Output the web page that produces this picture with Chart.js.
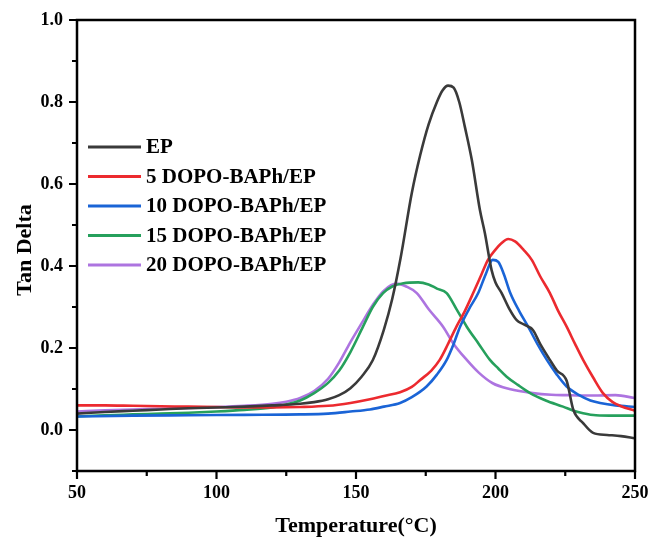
<!DOCTYPE html>
<html>
<head>
<meta charset="utf-8">
<script src="https://cdn.jsdelivr.net/npm/chart.js@4.4.1/dist/chart.umd.min.js"></script>
<style>
html,body{margin:0;padding:0;background:#fff;}
#wrap{width:651px;height:540px;position:relative;}
</style>
</head>
<body>
<div id="wrap"><canvas id="c" width="651" height="540"></canvas></div>
<script>
const seriesNames = ["EP", "5 DOPO-BAPh/EP", "10 DOPO-BAPh/EP", "15 DOPO-BAPh/EP", "20 DOPO-BAPh/EP"];
const seriesColors = ["#3a3a3a", "#ec2a2f", "#1a64d6", "#26a05c", "#ad74e0"];

const epX = [50,60,70,80,90,100,110,120,130,135,140,144,148,152,156,160,163,166,170,173,176,179,181,183,185,187,189,191.5,194.4,196.2,198.6,200,202.2,205,207.6,210,213.4,216,219.5,222,225.5,227.9,231.4,235,240,245,250];
const epY = [0.040,0.044,0.047,0.050,0.053,0.055,0.057,0.060,0.064,0.068,0.075,0.085,0.102,0.130,0.170,0.245,0.320,0.420,0.578,0.670,0.745,0.800,0.828,0.840,0.835,0.800,0.740,0.659,0.537,0.480,0.390,0.360,0.334,0.295,0.268,0.258,0.244,0.210,0.171,0.145,0.120,0.049,0.017,-0.007,-0.012,-0.015,-0.020];

const p5X = [50,60,70,80,90,100,110,120,130,140,148,155,160,165.8,170,173,177,180,183,186,189,192,195,197.3,200,202,204.6,207,210,213,216,219.5,222.5,225.5,228.5,231.4,235,238.5,242,245,250];
const p5Y = [0.060,0.060,0.059,0.058,0.057,0.056,0.055,0.055,0.056,0.059,0.066,0.075,0.083,0.092,0.105,0.122,0.145,0.171,0.210,0.252,0.290,0.334,0.380,0.415,0.440,0.455,0.466,0.460,0.440,0.415,0.375,0.334,0.290,0.252,0.210,0.171,0.128,0.090,0.068,0.058,0.047];

const p10X = [50,70,90,110,130,140,148,155,160,165.8,170,175.3,179,182.5,185,187.3,190.5,193.8,196.5,199,201,203,205.3,208.5,211.7,215,218.4,222,225.5,230,234,237.5,243,250];
const p10Y = [0.033,0.035,0.036,0.037,0.038,0.040,0.045,0.050,0.057,0.066,0.080,0.106,0.135,0.171,0.210,0.252,0.295,0.334,0.380,0.415,0.410,0.380,0.334,0.290,0.252,0.210,0.171,0.135,0.106,0.085,0.072,0.066,0.060,0.056];

const p15X = [50,60,70,80,90,100,110,120,125,130,135,140,144,148,152.5,156,159.7,163,167,172.3,176,179,182.5,186,189.7,194,198,201,204,208,212.4,218,224.2,228,231.4,236,243,250];
const p15Y = [0.033,0.036,0.038,0.040,0.042,0.045,0.049,0.055,0.062,0.072,0.090,0.115,0.145,0.190,0.252,0.300,0.334,0.350,0.358,0.360,0.355,0.345,0.334,0.295,0.252,0.210,0.171,0.150,0.130,0.110,0.090,0.072,0.057,0.047,0.041,0.036,0.035,0.035];

const p20X = [50,60,70,80,90,100,110,120,125,130,135,140,144,147.8,152,156,160,164.6,168,171.8,176,181.2,185,189.7,194,199,205,213.4,220,225.5,235,243,250];
const p20Y = [0.045,0.048,0.050,0.052,0.054,0.056,0.059,0.064,0.069,0.078,0.095,0.125,0.165,0.212,0.260,0.305,0.340,0.357,0.350,0.334,0.295,0.252,0.210,0.171,0.140,0.114,0.100,0.090,0.086,0.085,0.084,0.085,0.078];

const xTickLabels = [50, 100, 150, 200, 250];
const xMinorTicks = [75, 125, 175, 225];
const yTickLabels = [0.0, 0.2, 0.4, 0.6, 0.8, 1.0];
const yMinorTicks = [-0.1, 0.1, 0.3, 0.5, 0.7, 0.9];
const xTitle = "Temperature(\u00B0C)";
const yTitle = "Tan Delta";

const allX = [epX, p5X, p10X, p15X, p20X];
const allY = [epY, p5Y, p10Y, p15Y, p20Y];

const FONT = "'Liberation Serif', 'Times New Roman', serif";

const datasets = seriesNames.map((name, i) => ({
  label: name,
  data: allX[i].map((x, j) => ({x: x, y: allY[i][j]})),
  borderColor: seriesColors[i],
  backgroundColor: seriesColors[i],
  borderWidth: 2.6,
  pointRadius: 0,
  cubicInterpolationMode: 'monotone',
  fill: false
}));

const framePlugin = {
  id: 'frame',
  afterDraw(chart) {
    const ctx = chart.ctx;
    const a = chart.chartArea;
    const xs = chart.scales.x, ys = chart.scales.y;
    ctx.save();
    ctx.strokeStyle = '#000';
    ctx.lineWidth = 2.5;
    ctx.strokeRect(a.left, a.top, a.right - a.left, a.bottom - a.top);
    ctx.lineWidth = 2.2;
    ctx.beginPath();
    xTickLabels.forEach(v => { const px = xs.getPixelForValue(v); ctx.moveTo(px, a.bottom); ctx.lineTo(px, a.bottom + 8); });
    xMinorTicks.forEach(v => { const px = xs.getPixelForValue(v); ctx.moveTo(px, a.bottom); ctx.lineTo(px, a.bottom + 5); });
    yTickLabels.forEach(v => { const py = ys.getPixelForValue(v); ctx.moveTo(a.left, py); ctx.lineTo(a.left - 8, py); });
    yMinorTicks.forEach(v => { const py = ys.getPixelForValue(v); ctx.moveTo(a.left, py); ctx.lineTo(a.left - 5, py); });
    ctx.stroke();

    // legend
    ctx.font = "bold 21px " + FONT;
    ctx.textBaseline = 'middle';
    ctx.textAlign = 'left';
    chart.data.datasets.forEach((ds, i) => {
      const y = 147 + i * 29.5;
      ctx.strokeStyle = ds.borderColor;
      ctx.lineWidth = 2.8;
      ctx.beginPath();
      ctx.moveTo(88, y);
      ctx.lineTo(141, y);
      ctx.stroke();
      ctx.fillStyle = '#000';
      ctx.fillText(ds.label, 146, y + 1);
    });

    // titles
    ctx.font = "bold 22px " + FONT;
    ctx.fillStyle = '#000';
    ctx.textAlign = 'center';
    ctx.textBaseline = 'middle';
    ctx.fillText(xTitle, (a.left + a.right) / 2, 526);
    ctx.save();
    ctx.translate(25, 250);
    ctx.rotate(-Math.PI / 2);
    ctx.fillText(yTitle, 0, 0);
    ctx.restore();
    ctx.restore();
  }
};

new Chart(document.getElementById('c'), {
  type: 'line',
  data: { datasets: datasets },
  options: {
    responsive: false,
    animation: false,
    devicePixelRatio: 1,
    layout: { padding: { left: 0, top: 20, right: 16, bottom: 0 } },
    plugins: { legend: { display: false }, tooltip: { enabled: false } },
    scales: {
      x: {
        type: 'linear',
        min: 50, max: 250,
        afterFit(s) { s.height = 69; s.paddingLeft = 0; s.paddingRight = 0; },
        afterBuildTicks(s) { s.ticks = xTickLabels.map(v => ({value: v})); },
        grid: { display: true, drawOnChartArea: false, drawTicks: false },
        border: { display: false },
        ticks: { padding: 12, color: '#000', font: { family: FONT, size: 18, weight: 'bold' }, maxRotation: 0, callback: v => String(v) }
      },
      y: {
        type: 'linear',
        min: -0.1, max: 1.0,
        afterFit(s) { s.width = 77; s.paddingTop = 0; s.paddingBottom = 0; },
        afterBuildTicks(s) { s.ticks = yTickLabels.map(v => ({value: v})); },
        grid: { display: true, drawOnChartArea: false, drawTicks: false },
        border: { display: false },
        ticks: { padding: 14, color: '#000', font: { family: FONT, size: 18, weight: 'bold' }, callback: v => Number(v).toFixed(1) }
      }
    }
  },
  plugins: [framePlugin]
});
</script>
</body>
</html>
